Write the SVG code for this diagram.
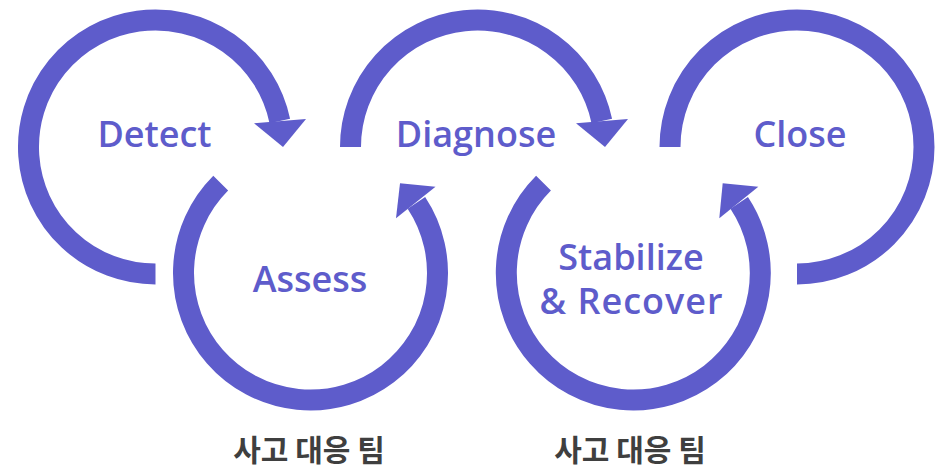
<svg xmlns="http://www.w3.org/2000/svg" width="941" height="470" viewBox="0 0 941 470">
  <style>
    .arc { fill: none; stroke: #5E5CCB; stroke-width: 21; stroke-linecap: butt; }
    .head { fill: #5E5CCB; }
    .lbl { font-family: "Open Sans", "Noto Sans", "DejaVu Sans", sans-serif; font-weight: 600; font-size: 36px; fill: #5E5CCB; text-anchor: middle; }
    .team { font-family: "Noto Sans CJK KR", "Noto Sans", sans-serif; font-weight: 700; font-size: 30px; fill: #3F3F3F; text-anchor: middle; }
  </style>
  <rect width="941" height="470" fill="#FFFFFF"/>
  <g id="connectors">
    <path class="arc" d="M155.5,274 A127,127 0 1 1 279.8,121.0"/>
    <polygon class="head" points="254,123.3 306,119 283,147"/>
    <path class="arc" d="M220.7,183.2 A127,127 0 1 0 416.4,202.9"/>
    <polygon class="head" points="400,183.3 435.5,186.7 396,218.3"/>
    <path class="arc" d="M350.5,147 A127,127 0 0 1 601.8,121.0"/>
    <polygon class="head" points="576,123.3 628,119 605,147"/>
    <path class="arc" d="M543.5,183.2 A127,127 0 1 0 739.2,202.9"/>
    <polygon class="head" points="722.7,183.3 758.3,186.7 719.3,218.3"/>
    <path class="arc" d="M670,147 A127,127 0 1 1 797,274"/>
  </g>
  <g id="detect"><text class="lbl" x="154.5" y="146.5">Detect</text></g>
  <g id="assess"><text class="lbl" x="310" y="291.5">Assess</text></g>
  <g id="diagnose"><text class="lbl" x="476" y="146.5">Diagnose</text></g>
  <g id="stabilize"><text class="lbl" x="631" y="269.5">Stabilize</text><text class="lbl" x="631" y="314" textLength="183" lengthAdjust="spacing">&amp; Recover</text></g>
  <g id="close"><text class="lbl" x="800" y="146.5">Close</text></g>
  <g id="team1"><text class="team" x="309" y="461">사고 대응 팀</text></g>
  <g id="team2"><text class="team" x="630" y="461">사고 대응 팀</text></g>
</svg>
